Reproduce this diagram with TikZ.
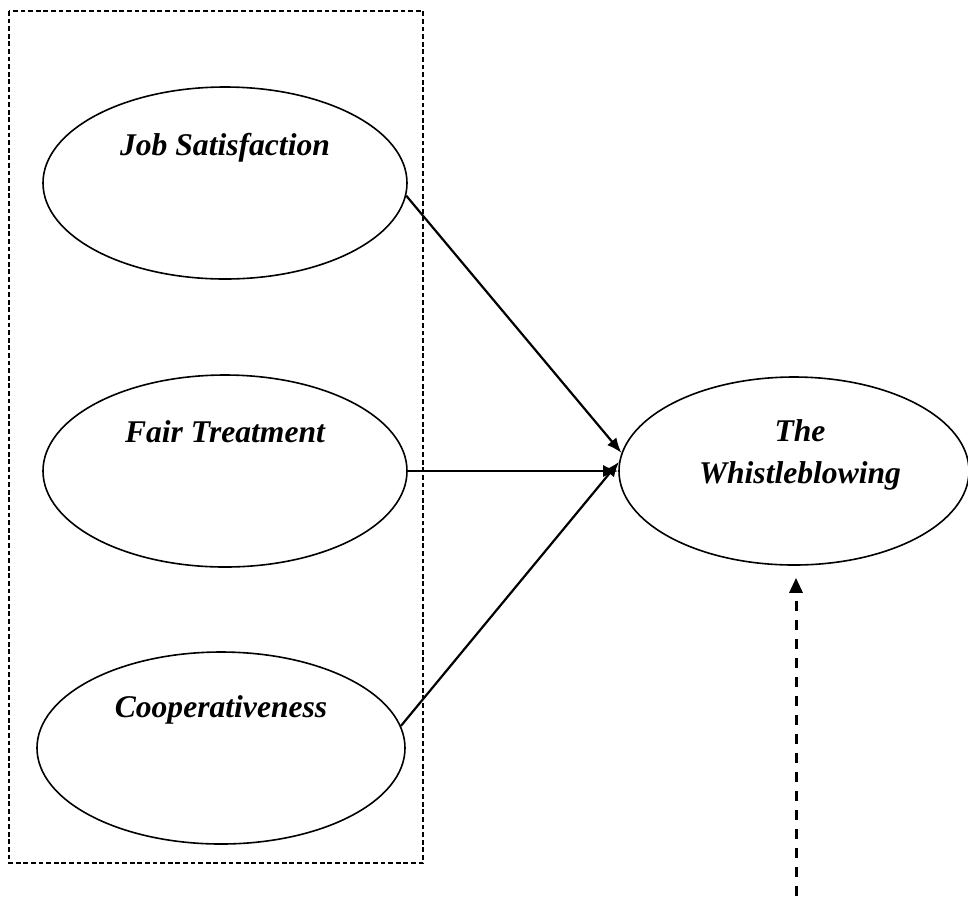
\documentclass[tikz,border=0pt]{standalone}
\usepackage{fontspec}
\setmainfont{Liberation Serif}
\usepackage{tikz}
\usetikzlibrary{shapes.geometric,arrows.meta,positioning}
\tikzstyle{construct}=[draw,ellipse,line width=0.8pt,inner sep=0pt,minimum width=182pt,minimum height=96pt]
\tikzstyle{caption}=[font=\fontsize{15.8}{21}\selectfont\bfseries\itshape,align=center,inner sep=0pt]
\tikzstyle{path}=[line width=1.1pt,-{Latex[length=7.5pt,width=6pt]}]
\tikzstyle{groupbox}=[line width=0.8pt,dash pattern=on 2.4pt off 1.4pt]
\tikzstyle{control}=[line width=1.5pt,dash pattern=on 5pt off 4.5pt,-{Triangle[length=7.5pt,width=6.5pt]}]

\begin{document}
\begin{tikzpicture}[x=0.5pt,y=-0.5pt]
\useasboundingbox (0,0) rectangle (968,896);

% independent variables
\draw[groupbox] (9,11) rectangle (423,863);
\node [construct] (js) at (225,183) {};
\node [construct] (ft) at (225,471) {};
\node [construct,minimum width=184pt] (co) at (221,748) {};
\node [caption,anchor=base] (js-t) at ([yshift=14pt]js.center) {Job Satisfaction};
\node [caption,anchor=base] (ft-t) at ([yshift=14.5pt]ft.center) {Fair Treatment};
\node [caption,anchor=base] (co-t) at ([yshift=15.5pt]co.center) {Cooperativeness};

% dependent variable
\node [construct,minimum width=175pt,minimum height=94pt] (wb) at (794,471) {};
\node [caption] (wb-t) at ([xshift=3pt,yshift=8pt]wb.center) {The\\Whistleblowing};

\draw[path] (js.-4) -- (wb.174);
\draw[path] (ft.east) -- (wb.west);
\draw[path] (co.7) -- (wb.177);

\coordinate (src) at (796,896);
\draw[control] (src) -- ([yshift=-6pt]wb.south -| src);
\end{tikzpicture}
\end{document}
